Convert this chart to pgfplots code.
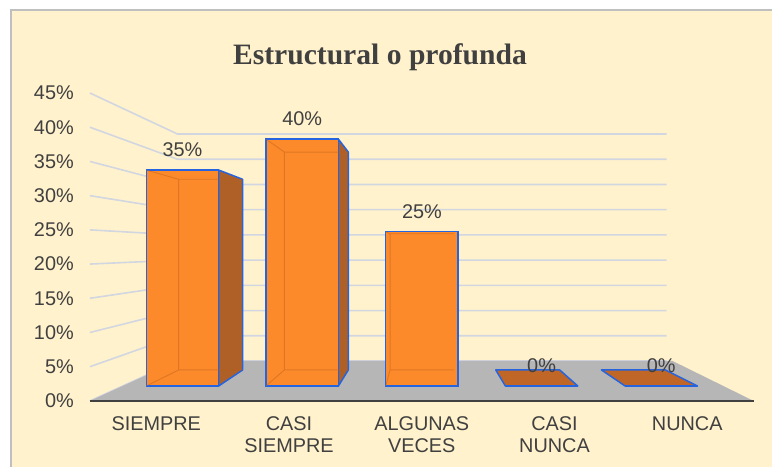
\documentclass[border=0pt]{standalone}
\usepackage{pgfplots}
\pgfplotsset{compat=1.18}
\usepackage{pgfplotstable}
\usepackage{fontspec}
\setmainfont{Liberation Sans}
\newfontfamily\titlefont{Liberation Serif}

\definecolor{bgyel}{RGB}{255,242,204}
\definecolor{framec}{RGB}{191,191,191}
\definecolor{gridc}{RGB}{210,214,224}
\definecolor{floorc}{RGB}{182,182,182}
\definecolor{axisc}{RGB}{64,64,64}
\definecolor{labc}{RGB}{64,64,64}
\definecolor{frontc}{RGB}{252,138,42}
\definecolor{sidec}{RGB}{174,96,38}
\definecolor{topc}{RGB}{192,102,38}
\definecolor{edgec}{RGB}{36,100,225}
\definecolor{innerc}{RGB}{190,95,30}

\newcommand\lab{\fontsize{14.9}{16.5}\selectfont}

\pgfplotstableread{
i v
0 35
1 40
2 25
3 0
4 0
}\bardata

% one-point perspective: vanishing point and depth ratios (bar front plane = 1)
\def\VX{2.0092}\def\VY{22.204}
\def\rF{1.109}\def\rB{0.883}\def\rW{0.8175}\def\hw{0.3025}
\pgfmathdeclarefunction{PX}{2}{\pgfmathparse{\VX+((#1)-\VX)*(#2)}}
\pgfmathdeclarefunction{PY}{2}{\pgfmathparse{\VY+((#1)-\VY)*(#2)}}

\pgfplotsset{
  sideface/.style={fill=sidec, draw=edgec, line width=1.1pt, line join=round, forget plot},
  topface/.style={fill=topc, draw=edgec, line width=1.1pt, line join=round, forget plot},
}
\tikzset{inneredge/.style={draw=innerc, opacity=0.45, line width=0.7pt}}

\newcommand\barprep[1]{%
  \pgfplotstablegetelem{#1}{v}\of\bardata
  \pgfmathsetmacro\val{\pgfplotsretval}%
  \pgfmathsetmacro\xl{#1-\hw}\pgfmathsetmacro\xr{#1+\hw}%
  \pgfmathsetmacro\bXl{PX(\xl,\rB)}\pgfmathsetmacro\bXr{PX(\xr,\rB)}%
  \pgfmathsetmacro\bYz{PY(0,\rB)}\pgfmathsetmacro\bYv{PY(\val,\rB)}%
  \pgfmathtruncatemacro\showR{\xr<\VX ? 1 : 0}%
  \pgfmathtruncatemacro\showL{\xl>\VX ? 1 : 0}%
  \pgfmathtruncatemacro\showT{\val<\VY ? 1 : 0}%
  \pgfmathtruncatemacro\nonzero{\val>0 ? 1 : 0}%
}
\newcommand\barback[1]{%
  \barprep{#1}%
  \ifnum\showT=1
    \edef\tmp{\noexpand\addplot[topface] coordinates {(\xl,\val) (\xr,\val) (\bXr,\bYv) (\bXl,\bYv)} -- cycle;}\tmp
  \fi
  \ifnum\nonzero=1
  \ifnum\showR=1
    \edef\tmp{\noexpand\addplot[sideface] coordinates {(\xr,0) (\bXr,\bYz) (\bXr,\bYv) (\xr,\val)} -- cycle;}\tmp
  \fi
  \ifnum\showL=1
    \edef\tmp{\noexpand\addplot[sideface] coordinates {(\xl,0) (\bXl,\bYz) (\bXl,\bYv) (\xl,\val)} -- cycle;}\tmp
  \fi
  \fi
}
\newcommand\barinner[1]{%
  \barprep{#1}%
  \ifnum\nonzero=1
    \edef\tmp{\noexpand\draw[inneredge] (\xl,0) -- (\bXl,\bYz) -- (\bXr,\bYz) (\bXl,\bYz) -- (\bXl,\bYv) -- (\bXr,\bYv) (\xl,\val) -- (\bXl,\bYv);}\tmp
  \fi
}

\begin{document}
\begin{tikzpicture}
% chart area (axis box sits at (0,0), 579pt x 350.25pt)
\fill[white] (0,0) rectangle (579pt,350.25pt);
\fill[bgyel] (8.25pt,0) rectangle (579pt,342.75pt);
\draw[framec, line width=1.1pt] (8.25pt,0) -- (8.25pt,342.75pt) -- (579pt,342.75pt);
\begin{axis}[
  at={(0,0)}, anchor=south west,
  x=89.775pt, y=4.6275pt,
  xmin=-1.52464, xmax=4.92481, ymin=-13.128, ymax=62.561,
  clip=false,
  axis line style={draw=none},
  tick style={draw=none},
  /pgf/number format/assume math mode=true,
  xtick={-0.2190,0.8900,1.9990,3.1080,4.2170},
  xticklabels={SIEMPRE,{CASI\\SIEMPRE},{ALGUNAS\\VECES},{CASI\\NUNCA},NUNCA},
  xticklabel style={align=center, anchor=north, inner sep=0pt, yshift=37.875pt},
  ytick={-2.420,3.125,8.670,14.215,19.760,25.305,30.850,36.395,41.940,47.485},
  yticklabels={0\%,5\%,10\%,15\%,20\%,25\%,30\%,35\%,40\%,45\%},
  yticklabel style={anchor=east, inner sep=0pt, xshift=55.5pt},
  tick label style={font=\lab, text=labc},
  title={Estructural o profunda},
  title style={at={(0.4922,0.8437)}, anchor=base, inner sep=0pt,
    font=\titlefont\bfseries\fontsize{22.2}{26}\selectfont, text=labc},
]
\coordinate (SW) at (rel axis cs:0,0);
\coordinate (NE) at (rel axis cs:1,1);
% side and back wall gridlines
\pgfplotsinvokeforeach{0,5,...,45}{
  \draw[gridc, line width=1.2pt, line join=round]
    ({PX(-0.5,\rF)},{PY(#1,\rF)}) -- ({PX(-0.5,\rW)},{PY(#1,\rW)}) -- ({PX(4.5,\rW)},{PY(#1,\rW)});
}
% floor
\fill[floorc] ({PX(-0.5,\rF)},{PY(0,\rF)}) -- ({PX(4.5,\rF)},{PY(0,\rF)})
   -- ({PX(4.56,\rW)},{PY(0,\rW)}) -- ({PX(-0.5,\rW)},{PY(0,\rW)}) -- cycle;
\draw[axisc, line width=1.6pt] ({PX(-0.5,\rF)},{PY(0,\rF)}) -- ({PX(4.5,\rF)},{PY(0,\rF)});
% bars: hidden faces, front faces, see-through edges, labels
\barback{0}\barback{1}\barback{2}\barback{3}\barback{4}
\addplot[ybar, bar width=0.605, fill=frontc, draw=edgec, line width=1.1pt, forget plot]
  table[x=i, y=v]{\bardata};
\barinner{0}\barinner{1}\barinner{2}\barinner{3}\barinner{4}
\addplot[draw=none, mark=none, forget plot,
  nodes near coords={\pgfmathprintnumber{\pgfplotspointmeta}\%},
  every node near coord/.append style={anchor=south, inner sep=0pt, yshift=9.75pt, font=\lab, text=labc}]
  table[x=i, y=v]{\bardata};
\end{axis}
\pgfresetboundingbox
\path[use as bounding box] (SW) rectangle (NE);
\end{tikzpicture}
\end{document}
